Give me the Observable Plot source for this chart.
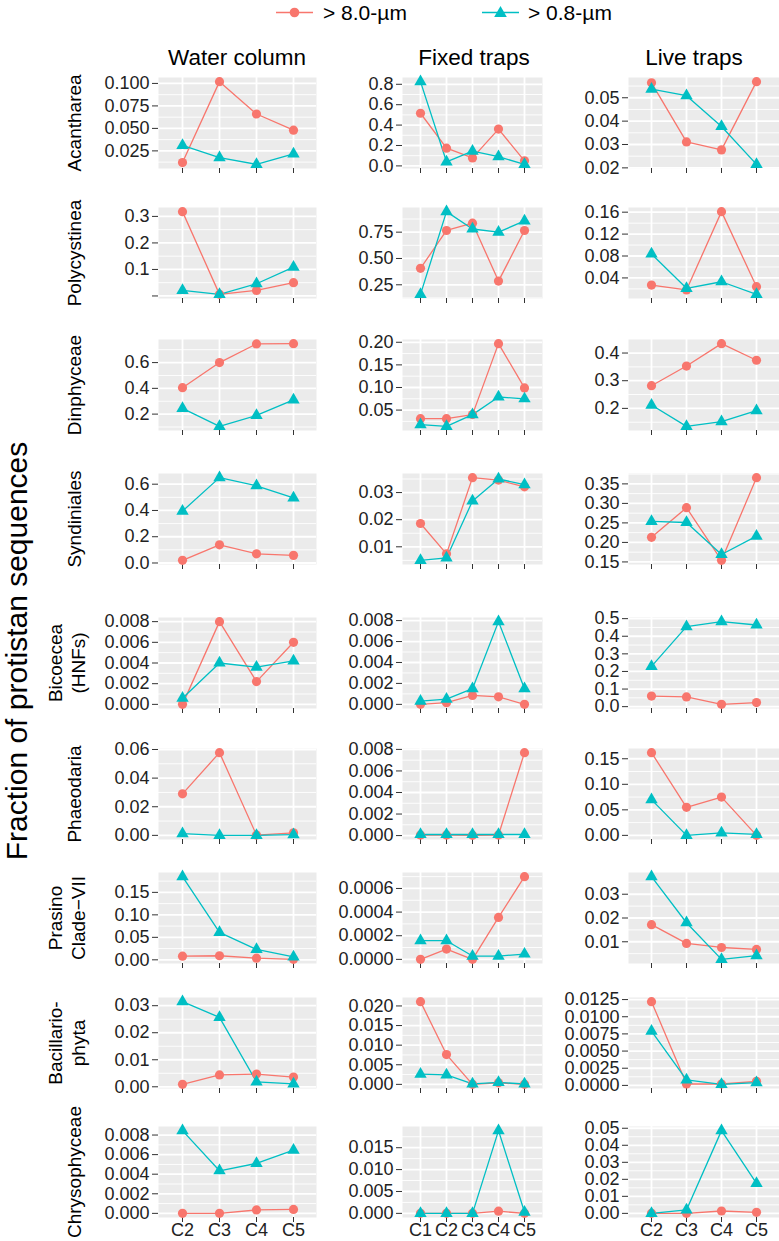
<!DOCTYPE html>
<html><head><meta charset="utf-8">
<script src="https://cdn.jsdelivr.net/npm/d3@7"></script>
<script src="https://cdn.jsdelivr.net/npm/@observablehq/plot@0.6"></script>
<style>
body{margin:0;background:#fff;font-family:'Liberation Sans',Arial,Helvetica,sans-serif;}
#fig{position:relative;width:779px;height:1241px;overflow:hidden;background:#fff;}
.abs{position:absolute;white-space:nowrap;color:#000;}
.rot{position:absolute;transform:translate(-50%,-50%) rotate(-90deg);white-space:nowrap;text-align:center;color:#000;}
.ctr{position:absolute;transform:translate(-50%,-50%);white-space:nowrap;color:#000;}
.panel svg{max-width:none;overflow:visible;}
</style></head><body><div id="fig"></div>
<script>
// ---------- data ----------
const seriesNames = ["> 8.0-\u00b5m", "> 0.8-\u00b5m"];
const sampleTypes = ["Water column", "Fixed traps", "Live traps"];
const taxa = [["Acantharea"], ["Polycystinea"], ["Dinphyceae"], ["Syndiniales"], ["Bicoecea", "(HNFs)"],
  ["Phaeodaria"], ["Prasino", "Clade\u2212VII"], ["Bacillario-", "phyta"], ["Chrysophyceae"]];
const waterCats = ["C2", "C3", "C4", "C5"];
const fixedCats = ["C1", "C2", "C3", "C4", "C5"];
const liveCats = ["C2", "C3", "C4", "C5"];

// > 8.0-um fraction
const waterLarge = [
  [0.012, 0.102, 0.066, 0.048],
  [0.318, 0.006, 0.021, 0.050],
  [0.405, 0.600, 0.745, 0.747],
  [0.020, 0.138, 0.070, 0.058],
  [0.0000, 0.0080, 0.0022, 0.0060],
  [0.029, 0.0578, 0.0002, 0.0018],
  [0.008, 0.009, 0.0037, 0.001],
  [0.0009, 0.0044, 0.0047, 0.0036],
  [0.0000, 0.0000, 0.00035, 0.0004]
];
// > 0.8-um fraction
const waterSmall = [
  [0.031, 0.0175, 0.010, 0.0216],
  [0.021, 0.006, 0.046, 0.109],
  [0.244, 0.105, 0.190, 0.310],
  [0.395, 0.650, 0.588, 0.495],
  [0.0006, 0.0040, 0.0036, 0.0042],
  [0.0012, 0.0000, 0.0000, 0.0005],
  [0.185, 0.061, 0.023, 0.0067],
  [0.0315, 0.0257, 0.0018, 0.0011],
  [0.00845, 0.00435, 0.0051, 0.00645]
];
const fixedLarge = [
  [0.516, 0.174, 0.078, 0.361, 0.050],
  [0.406, 0.766, 0.835, 0.285, 0.766],
  [0.031, 0.031, 0.040, 0.197, 0.099],
  [0.0186, 0.0074, 0.0355, 0.0346, 0.0321],
  [0.0000, 0.00016, 0.00085, 0.00072, 0.0000],
  [0.00005, 0.00005, 0.00002, 0.00005, 0.0077],
  [0.0000, 0.000087, 0.0000, 0.000355, 0.0007],
  [0.0211, 0.0076, 0.0000, 0.0004, 0.0000],
  [0.0000, 0.0000, 0.0000, 0.0005, 0.0000]
];
const fixedSmall = [
  [0.826, 0.040, 0.145, 0.090, 0.015],
  [0.159, 0.945, 0.780, 0.750, 0.857],
  [0.018, 0.014, 0.040, 0.079, 0.075],
  [0.0050, 0.0059, 0.0269, 0.0350, 0.0329],
  [0.0003, 0.0005, 0.0015, 0.0079, 0.0015],
  [0.0001, 0.0001, 0.0001, 0.0001, 0.0001],
  [0.000158, 0.000158, 0.000028, 0.000028, 0.000045],
  [0.0026, 0.0024, 0.0001, 0.0005, 0.0001],
  [0.0000, 0.0000, 0.0000, 0.0189, 0.0003]
];
const liveLarge = [
  [0.0564, 0.0311, 0.0277, 0.0569],
  [0.027, 0.018, 0.161, 0.024],
  [0.282, 0.353, 0.434, 0.374],
  [0.213, 0.289, 0.154, 0.366],
  [0.060, 0.055, 0.013, 0.023],
  [0.162, 0.055, 0.075, 0.000],
  [0.0172, 0.0093, 0.0076, 0.0068],
  [0.0122, 0.0002, 0.0002, 0.0006],
  [0.0000, 0.0000, 0.0014, 0.0006]
];
const liveSmall = [
  [0.0537, 0.0509, 0.0377, 0.0215],
  [0.0837, 0.021, 0.033, 0.010],
  [0.212, 0.135, 0.152, 0.192],
  [0.254, 0.251, 0.169, 0.216],
  [0.229, 0.455, 0.483, 0.464],
  [0.070, 0.000, 0.005, 0.002],
  [0.0374, 0.018, 0.0026, 0.0042],
  [0.0079, 0.0008, 0.00015, 0.0004],
  [0.0000, 0.002, 0.0486, 0.0176]
];

// y tick labels (value = the label read as a number; "" is an unlabeled tick at 0)
const waterTicks = [
  ["0.025", "0.050", "0.075", "0.100"],
  ["", "0.1", "0.2", "0.3"],
  ["0.2", "0.4", "0.6"],
  ["0.0", "0.2", "0.4", "0.6"],
  ["0.000", "0.002", "0.004", "0.006", "0.008"],
  ["0.00", "0.02", "0.04", "0.06"],
  ["0.00", "0.05", "0.10", "0.15"],
  ["0.00", "0.01", "0.02", "0.03"],
  ["0.000", "0.002", "0.004", "0.006", "0.008"]
];
const fixedTicks = [
  ["0.0", "0.2", "0.4", "0.6", "0.8"],
  ["0.25", "0.50", "0.75"],
  ["0.05", "0.10", "0.15", "0.20"],
  ["0.01", "0.02", "0.03"],
  ["0.000", "0.002", "0.004", "0.006", "0.008"],
  ["0.000", "0.002", "0.004", "0.006", "0.008"],
  ["0.0000", "0.0002", "0.0004", "0.0006"],
  ["0.000", "0.005", "0.010", "0.015", "0.020"],
  ["0.000", "0.005", "0.010", "0.015"]
];
const liveTicks = [
  ["0.02", "0.03", "0.04", "0.05"],
  ["0.04", "0.08", "0.12", "0.16"],
  ["0.2", "0.3", "0.4"],
  ["0.15", "0.20", "0.25", "0.30", "0.35"],
  ["0.0", "0.1", "0.2", "0.3", "0.4", "0.5"],
  ["0.00", "0.05", "0.10", "0.15"],
  ["0.01", "0.02", "0.03"],
  ["0.0000", "0.0025", "0.0050", "0.0075", "0.0100", "0.0125"],
  ["0.00", "0.01", "0.02", "0.03", "0.04", "0.05"]
];

// ---------- layout ----------
const RED = "#F8766D", TEAL = "#00BFC4";
const FONT = "'Liberation Sans', Arial, Helvetica, sans-serif";
const fig = document.getElementById("fig");
const colLeft = [158, 402, 628];
const colWidth = [158, 140, 151];
const colTitleX = [237, 474, 694];
const rowTop = [77, 207, 339, 473, 617, 748, 872, 997, 1126];
const panelH = 91;

function addDiv(cls, html, css) {
  const d = document.createElement("div");
  d.className = cls;
  d.innerHTML = html;
  Object.assign(d.style, css);
  fig.appendChild(d);
  return d;
}

function makePanel(cats, large, small, tickLabels, left, top, width, showX) {
  const ticksAll = tickLabels.map(Number);
  const all = large.concat(small);
  const lo = d3.min(all), hi = d3.max(all), pad = (hi - lo) * 0.05;
  const domain = [lo - pad, hi + pad];
  const inDom = v => v >= domain[0] - 1e-12 && v <= domain[1] + 1e-12;
  const labelMap = new Map(ticksAll.map((v, i) => [v, tickLabels[i]]));
  const ticks = ticksAll.filter(inDom);
  const step = ticksAll[1] - ticksAll[0];
  const minor = [];
  for (let k = -1; k < ticksAll.length; k++) minor.push(ticksAll[0] + step * (k + 0.5));
  const rows = cats.map((c, i) => ({cat: c, large: large[i], small: small[i]}));
  const mL = 75, mR = 0, mT = 6, mB = showX ? 34 : 12;
  const chart = Plot.plot({
    width: width + mL + mR,
    height: panelH + mT + mB,
    marginLeft: mL, marginRight: mR, marginTop: mT, marginBottom: mB,
    style: {fontFamily: FONT, fontSize: "18px", color: "#222", background: "none", overflow: "visible"},
    x: {type: "point", domain: cats, padding: 0.6},
    y: {domain},
    marks: [
      Plot.frame({fill: "#EBEBEB", stroke: "none"}),
      Plot.ruleY(minor.filter(inDom), {stroke: "white", strokeWidth: 0.9}),
      Plot.ruleY(ticks, {stroke: "white", strokeWidth: 1.8}),
      Plot.ruleX(cats, {stroke: "white", strokeWidth: 1.8}),
      Plot.axisX({tickSize: 5, tickPadding: 1, tickFormat: showX ? (d => d) : (() => ""), label: null, stroke: "#333", fill: "#222"}),
      Plot.axisY({ticks, tickFormat: d => labelMap.get(d), tickSize: 6, tickPadding: 3, label: null, stroke: "#333", fill: "#222"}),
      Plot.line(rows, {x: "cat", y: "large", stroke: RED, strokeWidth: 1.3}),
      Plot.line(rows, {x: "cat", y: "small", stroke: TEAL, strokeWidth: 1.3}),
      Plot.dot(rows, {x: "cat", y: "large", fill: RED, r: 4.6, symbol: "circle"}),
      Plot.dot(rows, {x: "cat", y: "small", fill: TEAL, r: 4.6, symbol: "triangle"})
    ]
  });
  const wrap = document.createElement("div");
  wrap.className = "panel";
  Object.assign(wrap.style, {position: "absolute", left: (left - mL) + "px", top: (top - mT) + "px",
    width: (width + mL + mR) + "px", height: (panelH + mT + mB) + "px"});
  wrap.appendChild(chart);
  fig.appendChild(wrap);
}

const columns = [
  {cats: waterCats, large: waterLarge, small: waterSmall, ticks: waterTicks},
  {cats: fixedCats, large: fixedLarge, small: fixedSmall, ticks: fixedTicks},
  {cats: liveCats, large: liveLarge, small: liveSmall, ticks: liveTicks}
];

taxa.forEach((t, r) => {
  columns.forEach((c, j) => {
    makePanel(c.cats, c.large[r], c.small[r], c.ticks[r], colLeft[j], rowTop[r], colWidth[j], r === taxa.length - 1);
  });
});

// column titles
sampleTypes.forEach((s, j) => addDiv("ctr", s, {left: colTitleX[j] + "px", top: "58px", fontSize: "22.5px"}));

// row labels
taxa.forEach((t, r) => {
  const cy = rowTop[r] + panelH / 2;
  const cx = t.length > 1 ? 67 : 74;
  addDiv("rot", t.join("<br>"), {left: cx + "px", top: cy + "px", fontSize: "19px", lineHeight: "23px"});
});

// overall y title
addDiv("rot", "Fraction of protistan sequences", {left: "17px", top: "651px", fontSize: "30px", lineHeight: "30px"});

// legend
const NS = "http://www.w3.org/2000/svg";
const lg = document.createElementNS(NS, "svg");
lg.setAttribute("width", 779); lg.setAttribute("height", 26);
lg.style.position = "absolute"; lg.style.left = "0px"; lg.style.top = "0px";
const legendItems = [
  {name: seriesNames[0], color: RED, x0: 276, x1: 313, sym: "circle", tx: 323},
  {name: seriesNames[1], color: TEAL, x0: 482, x1: 519, sym: "triangle", tx: 528}
];
legendItems.forEach(it => {
  const cy = 12.5, cx = (it.x0 + it.x1) / 2;
  const ln = document.createElementNS(NS, "line");
  ln.setAttribute("x1", it.x0); ln.setAttribute("x2", it.x1); ln.setAttribute("y1", cy); ln.setAttribute("y2", cy);
  ln.setAttribute("stroke", it.color); ln.setAttribute("stroke-width", 1.3);
  lg.appendChild(ln);
  if (it.sym === "circle") {
    const c = document.createElementNS(NS, "circle");
    c.setAttribute("cx", cx); c.setAttribute("cy", cy); c.setAttribute("r", 4.8); c.setAttribute("fill", it.color);
    lg.appendChild(c);
  } else {
    const p = document.createElementNS(NS, "path");
    p.setAttribute("d", `M${cx},${cy - 6.5}L${cx + 6.3},${cy + 4.5}L${cx - 6.3},${cy + 4.5}Z`);
    p.setAttribute("fill", it.color);
    lg.appendChild(p);
  }
  addDiv("abs", it.name, {left: it.tx + "px", top: "0px", fontSize: "21px", lineHeight: "25px"});
});
fig.appendChild(lg);
</script></body></html>
